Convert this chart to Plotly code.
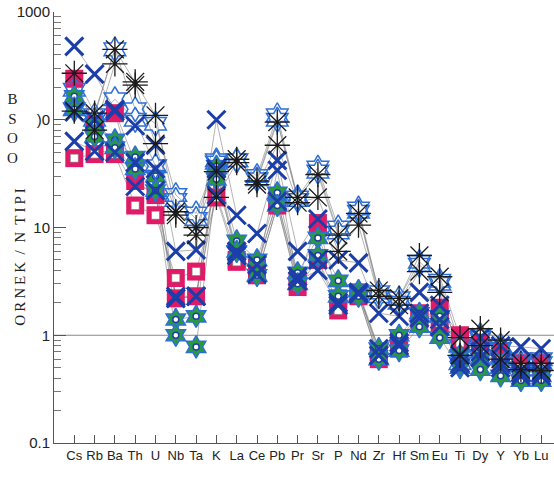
import plotly.graph_objects as go

# Trace-element order along the x axis
elements = ["Cs", "Rb", "Ba", "Th", "U", "Nb", "Ta", "K", "La", "Ce", "Pb", "Pr",
            "Sr", "P", "Nd", "Zr", "Hf", "Sm", "Eu", "Ti", "Dy", "Y", "Yb", "Lu"]

# Normalised concentrations, one list per sample
asterisk_hi = [270, 115, 450, 225, 110, 14, 10, 33, 43, 27, 95, 19, 31, 8.5, 13.5, 2.6, 2.2, 5.5, 3.5, 0.95, 1.15, 0.9, 0.55, 0.55]
asterisk_lo = [120, 80, 330, 210, 60, 13, 8.5, 19, 40, 25, 58, 17, 19, 6, 10.5, 2.3, 1.9, 3.9, 2.5, 0.65, 0.8, 0.6, 0.48, 0.47]

hexagram_hi = [125, 110, 450, 125, 92, 20, 13.5, 42, 42, 30, 110, 19, 36, 10, 15, 2.5, 2.2, 4.8, 3.2, 0.8, 1.0, 0.8, 0.6, 0.6]
hexagram_lo = [190, 100, 155, 100, 37, 18, 12, 40, 42, 28, 100, 18, 33, 9, 14, 2.3, 2.0, 4.5, 3.0, 0.55, 0.95, 0.75, 0.55, 0.55]

cross_hi = [480, 265, 125, 88, 58, 6, 6.2, 100, 13, 8.8, 42, 6, 12, 5, 4.7, 1.6, 1.5, 2.5, 1.9, 0.65, 0.95, 0.8, 0.78, 0.75]
cross_mid = [118, 100, 120, 40, 35, 2.2, 2.3, 35, 6, 4.5, 17.5, 3.5, 5, 2.0, 2.5, 0.65, 0.8, 1.6, 1.4, 0.5, 0.62, 0.5, 0.42, 0.42]
cross_lo = [63, 51, 50, 24, 22, 2.3, 2.3, 20, 5.5, 3.7, 34, 3.2, 4, 1.9, 2.4, 0.75, 0.85, 1.45, 1.2, 0.55, 0.7, 0.55, 0.45, 0.45]

green_hi = [165, 90, 65, 45, 30, 1.4, 1.5, 37, 7.5, 5, 21, 3.8, 8, 3.2, 2.6, 0.75, 1.0, 1.6, 1.5, 0.65, 0.6, 0.5, 0.42, 0.42]
green_lo = [125, 70, 55, 35, 22, 1.0, 0.78, 28, 6, 3.6, 16, 3.0, 5.5, 2.3, 2.3, 0.6, 0.72, 1.2, 0.95, 0.5, 0.48, 0.42, 0.38, 0.38]

pink_solid = [240, 90, 115, 27, 20, 2.2, 2.3, 35, 5, 4.2, 18, 3.2, 11, 2.2, 2.5, 0.7, 0.9, 1.6, 1.8, 1.0, 0.85, 0.7, 0.55, 0.55]
pink_open = [44, 48, 48, 16, 13, 3.4, 3.9, 19, 4.8, 3.6, 16, 2.8, 5, 1.7, 2.3, 0.6, 0.75, 1.4, 1.3, 0.85, 0.7, 0.6, 0.5, 0.5]

y_tickvals = [0.1, 1, 10, 100, 1000]
y_ticktext = ["0.1", "1", "10", ")0", "1000"]
y_minorvals = [k * 10.0 ** d for d in (-1, 0, 1, 2) for k in range(2, 10)]

xs = list(range(len(elements)))
fig = go.Figure()

all_samples = [pink_solid, pink_open, green_hi, green_lo, hexagram_hi, hexagram_lo,
               cross_hi, cross_mid, cross_lo, asterisk_hi, asterisk_lo]

# thin grey profile lines
for s in all_samples:
    fig.add_trace(go.Scatter(x=xs, y=s, mode="lines",
                             line=dict(color="rgba(120,120,120,0.7)", width=0.8),
                             hoverinfo="skip", showlegend=False))

PINK = "#e01a66"
GREEN = "#2b9a3c"
BLUE = "#1c3ea8"
LBLUE = "#2d6fd6"

def markers(y, **m):
    fig.add_trace(go.Scatter(x=xs, y=y, mode="markers", marker=m, showlegend=False))

# pink squares (one with a white core)
markers(pink_solid, symbol="square", size=18, color=PINK, line=dict(width=0))
markers(pink_open, symbol="square", size=18, color=PINK, line=dict(width=0))
markers(pink_open, symbol="square", size=8, color="white", line=dict(width=0.6, color="#777777"))

# green stars with a blue outline and white core
for g in (green_hi, green_lo):
    markers(g, symbol="hexagram", size=17, color=GREEN, line=dict(width=1.5, color=LBLUE))
    markers(g, symbol="circle", size=6, color="white", line=dict(width=1.5, color=BLUE))

# open blue hexagrams
for h in (hexagram_hi, hexagram_lo):
    markers(h, symbol="hexagram-open", size=19, color=LBLUE, line=dict(width=1.5, color=LBLUE))

# blue crosses
for c in (cross_hi, cross_mid, cross_lo):
    markers(c, symbol="x-thin-open", size=18, color=BLUE, line=dict(width=3, color=BLUE))

# black asterisks
for a in (asterisk_hi, asterisk_lo):
    markers(a, symbol="asterisk-open", size=21, color="#1a1a1a", line=dict(width=1.3, color="#1a1a1a"))

# reference line at 1
fig.add_shape(type="line", xref="paper", x0=0, x1=1, yref="y", y0=1, y1=1,
              line=dict(color="#888888", width=1), layer="below")

fig.update_layout(
    width=554, height=477,
    margin=dict(l=54, r=0, t=12, b=34),
    paper_bgcolor="white", plot_bgcolor="white",
    font=dict(family="Liberation Sans, Arial, sans-serif", color="#222222"),
    xaxis=dict(range=[-1, 23.63], tickmode="array", tickvals=xs, ticktext=elements,
               ticks="inside", ticklen=8, tickcolor="#555555", showgrid=False,
               zeroline=False, showline=True, linecolor="#555555", linewidth=1,
               tickfont=dict(size=13, family="Liberation Sans Narrow, Liberation Sans, Arial")),
    yaxis=dict(type="log", range=[-1, 3], tickmode="array", tickvals=y_tickvals,
               ticktext=y_ticktext, ticks="inside", ticklen=12, tickcolor="#555555",
               showgrid=False, zeroline=False, showline=True, linecolor="#555555",
               linewidth=1, tickfont=dict(size=15),
               minor=dict(tickmode="array", tickvals=y_minorvals, ticks="inside",
                          ticklen=7, tickcolor="#777777", showgrid=False)),
)

T = "\u2009"
y_title = T.join("ORNEK") + "  /  N  " + T.join("TIPI")
fig.add_annotation(text=y_title, textangle=-90, xref="paper", yref="paper",
                   x=-0.068, y=0.43, xanchor="center", yanchor="middle", showarrow=False,
                   font=dict(family="Liberation Serif, Times New Roman, serif", size=15, color="#222222"))
fig.add_annotation(text="B<br>S<br>O<br>O", xref="paper", yref="paper",
                   x=-0.083, y=0.73, xanchor="center", yanchor="middle", showarrow=False,
                   font=dict(family="Liberation Serif, Times New Roman, serif", size=15, color="#222222"))

fig.write_html("out.html")
